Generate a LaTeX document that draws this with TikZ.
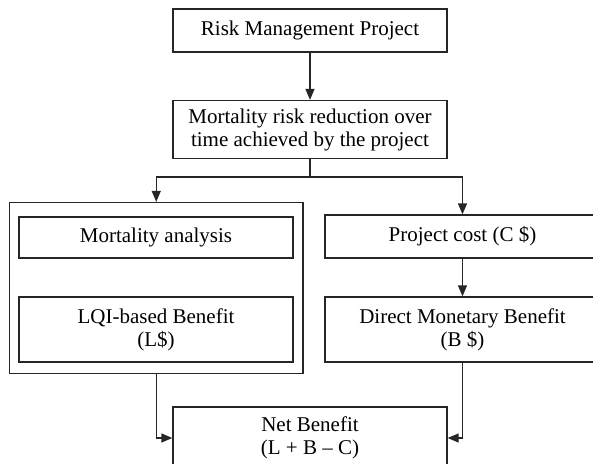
\documentclass[tikz,border=0pt]{standalone}
\usepackage{fontspec}
\setmainfont{Liberation Serif}
\usetikzlibrary{arrows.meta}
\begin{document}
\begin{tikzpicture}[x=1pt,y=-1pt,
  box/.style={draw=black!85, line width=1.3pt, inner sep=0pt, align=center,
    font=\fontsize{21}{23}\selectfont},
  conn/.style={draw=black!85, line width=1.3pt},
  arr/.style={conn, -{Triangle[width=9pt,length=11pt]}}]
\useasboundingbox (0,0) rectangle (593,463);
\node[box, minimum width=274pt, minimum height=43pt] (top) at (310,30.5) {Risk Management Project};
\node[box, minimum width=274pt, minimum height=58pt] (mid) at (310,129.5) {Mortality risk reduction over\\time achieved by the project};
\node[box, minimum width=293.5pt, minimum height=171pt] (outer) at (156.25,288) {};
\node[box, minimum width=274pt, minimum height=41pt] (mort) at (156,237.5) {Mortality analysis};
\node[box, minimum width=274pt, minimum height=65pt] (lqi) at (156,329.5) {LQI-based Benefit\\(L\$)};
\node[box, minimum width=275pt, minimum height=43pt] (cost) at (462.5,236.5) {Project cost (C \$)};
\node[box, minimum width=275pt, minimum height=65pt] (dmb) at (462.5,329.5) {Direct Monetary Benefit\\(B \$)};
\node[box, minimum width=274pt, minimum height=62pt] (net) at (310,438) {Net Benefit\\(L + B – C)};
\coordinate (split) at (310,177);
\draw[arr] (top.south) -- (mid.north);
\draw[conn] (mid.south) -- (split);
\draw[arr] (split) -| (outer.north);
\draw[arr] (split) -| (cost.north);
\draw[arr] (cost.south) -- (dmb.north);
\draw[arr] (outer.south) |- (net.west);
\draw[arr] (dmb.south) |- (net.east);
\end{tikzpicture}
\end{document}
